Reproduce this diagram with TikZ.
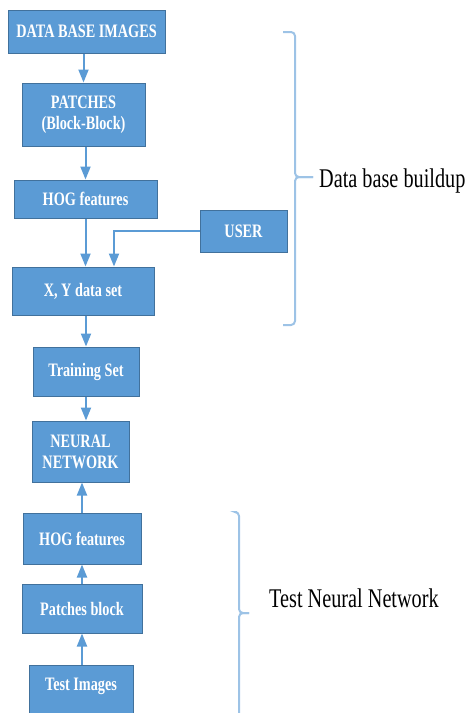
\documentclass[tikz,border=0pt]{standalone}
\usepackage{fontspec}
\setmainfont{Liberation Serif}
\usetikzlibrary{arrows.meta}

\definecolor{boxblue}{HTML}{5B9BD5}
\definecolor{boxline}{HTML}{41719C}
\definecolor{bracecol}{HTML}{9DC3E6}

\newcommand{\nar}[1]{\scalebox{0.75}[1]{#1}}

\tikzstyle{block}=[draw=boxline,fill=boxblue,text=white,line width=1pt,inner sep=0pt,align=center,font=\fontsize{19}{21}\selectfont\bfseries]
\tikzstyle{flow}=[draw=boxblue,line width=2pt,-{Triangle[length=13pt,width=10pt]}]
\tikzstyle{brace}=[draw=bracecol,line width=2pt,rounded corners=4pt]
\tikzstyle{sidetext}=[anchor=base west,inner sep=0pt,font=\fontsize{27}{30}\selectfont]

\begin{document}
\begin{tikzpicture}[x=1pt,y=-1pt]
    \useasboundingbox (0,0) rectangle (470,713);
    \node (db)[block,minimum width=157pt,minimum height=43pt] at (86.5,31.5) {\nar{DATA BASE IMAGES}};
    \node (patches)[block,minimum width=123pt,minimum height=63pt] at (83.5,114.5) {\nar{PATCHES}\\\nar{(Block-Block)}};
    \node (hog1)[block,minimum width=143pt,minimum height=38pt] at (85.5,199) {\nar{HOG features}};
    \node (user)[block,minimum width=87pt,minimum height=42pt] at (243.5,231) {\nar{USER}};
    \node (xy)[block,minimum width=142pt,minimum height=48pt] at (83,291) {\nar{X, Y data set}};
    \node (train)[block,minimum width=106pt,minimum height=49pt] at (86,371.5) {\nar{Training Set}};
    \node (nn)[block,minimum width=97pt,minimum height=61pt] at (80.5,451.5) {\nar{NEURAL}\\\nar{NETWORK}};
    \node (hog2)[block,minimum width=118pt,minimum height=51pt] at (82,538.5) {\nar{HOG features}};
    \node (patchb)[block,minimum width=120pt,minimum height=49pt] at (82,608.5) {\nar{Patches block}};
    \node (test)[block,minimum width=104pt,minimum height=64pt,text depth=26pt] at (81,697) {\nar{Test Images}};
    \node (buildup)[sidetext] at (319,187) {\nar{Data base buildup}};
    \node (testnn)[sidetext] at (269,607) {\nar{Test Neural Network}};
    \draw[flow] (db.south -| patches) -- (patches.north);
    \draw[flow] (patches.south -| hog1) -- (hog1.north);
    \draw[flow] (hog1) -- (hog1 |- xy.north);
    \draw[flow] (user.west) -| ([xshift=31pt]xy.north);
    \draw[flow] (xy.south -| train) -- (train.north);
    \draw[flow] (train) -- (train |- nn.north);
    \draw[flow] (hog2) -- (hog2 |- nn.south);
    \draw[flow] (patchb) -- (patchb |- hog2.south);
    \draw[flow] (test.north -| patchb) -- (patchb.south);
    \coordinate (tip1) at (313,177);
    \coordinate (tip2) at (249,613);
    \draw[brace] (283,32) -- (295,32) -- (295,177) -- (tip1);
    \draw[brace] (tip1) -- (295,177) -- (295,325) -- (283,325);
    \draw[brace] (237,512) -- (239,512) -- (239,613) -- (tip2);
    \draw[brace] (tip2) -- (239,613) -- (239,720);
\end{tikzpicture}
\end{document}
